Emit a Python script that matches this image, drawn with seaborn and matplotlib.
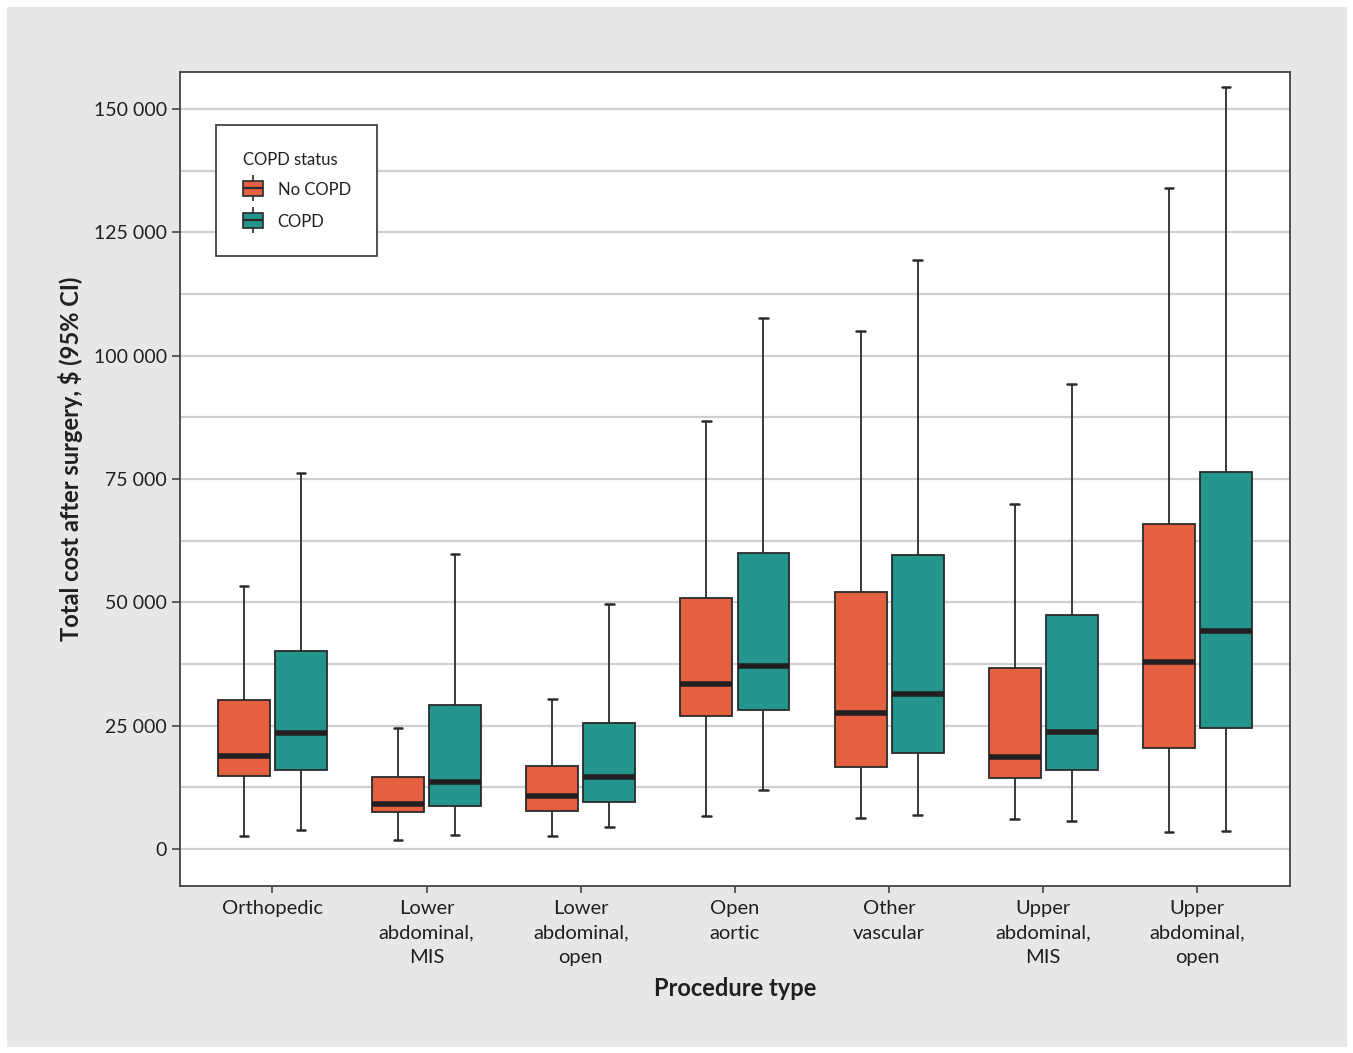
import numpy as np
import pandas as pd
import matplotlib
matplotlib.use("Agg")
import matplotlib.pyplot as plt
from matplotlib.ticker import MultipleLocator, FuncFormatter
from matplotlib.patches import Patch
from matplotlib.lines import Line2D
from matplotlib.legend_handler import HandlerTuple
import seaborn as sns

# Procedure categories (x axis) and group labels
procedures = ["Orthopedic", "Lower\nabdominal,\nMIS", "Lower\nabdominal,\nopen", "Open\naortic",
              "Other\nvascular", "Upper\nabdominal,\nMIS", "Upper\nabdominal,\nopen"]
groups = ["No COPD", "COPD"]
colors = ["#e56040", "#23958c"]

# Box statistics (dollars)
no_copd_low = [2600, 1800, 2600, 6700, 6300, 6100, 3400]
no_copd_q1 = [14800, 7600, 7700, 26900, 16600, 14400, 20400]
no_copd_med = [18800, 9200, 10700, 33400, 27500, 18600, 38000]
no_copd_q3 = [30200, 14500, 16800, 50900, 52000, 36600, 65900]
no_copd_high = [53400, 24500, 30400, 86800, 105100, 70000, 134000]

copd_low = [3800, 2900, 4500, 12000, 6900, 5700, 3700]
copd_q1 = [16000, 8800, 9500, 28100, 19400, 16000, 24600]
copd_med = [23500, 13500, 14600, 37100, 31400, 23700, 44200]
copd_q3 = [40100, 29100, 25500, 60100, 59500, 47400, 76500]
copd_high = [76300, 59900, 49600, 107700, 119400, 94300, 154500]

# five values per box: with whis=(0, 100) seaborn reproduces these stats exactly
rows = []
stats = {
    "No COPD": (no_copd_low, no_copd_q1, no_copd_med, no_copd_q3, no_copd_high),
    "COPD": (copd_low, copd_q1, copd_med, copd_q3, copd_high),
}
for grp in groups:
    cols = stats[grp]
    for i, proc in enumerate(procedures):
        for col in cols:
            rows.append({"procedure": proc, "COPD status": grp, "cost": col[i]})
df = pd.DataFrame(rows)

sns.set_theme(style="white")
plt.rcParams["font.family"] = ["Lato", "DejaVu Sans"]
text_color = "#231f20"
edge = "#2a2a2a"

fig = plt.figure(figsize=(13.53, 10.53), dpi=100)
fig.patch.set_facecolor("#e6e7e9")
fig.patch.set_edgecolor("white")
fig.patch.set_linewidth(9)
ax = fig.add_axes([0.1330, 0.1586, 0.8204, 0.7730])
ax.set_facecolor("white")

sns.boxplot(
    data=df, x="procedure", y="cost", hue="COPD status",
    order=procedures, hue_order=groups,
    palette=dict(zip(groups, colors)),
    whis=(0, 100), width=0.74, gap=0.09, saturation=1,
    linecolor=edge, linewidth=1.3,
    medianprops={"color": "#231f20", "linewidth": 4},
    capprops={"linewidth": 1.8},
    legend=False,
    ax=ax,
)

# shorten whisker caps
box_w = 0.37 * (1 - 0.09)
for ln in ax.lines:
    xd = np.asarray(ln.get_xdata(), dtype=float)
    yd = np.asarray(ln.get_ydata(), dtype=float)
    if len(xd) == 2 and yd[0] == yd[1]:
        span = abs(xd[1] - xd[0])
        if span < box_w * 0.7:
            c = xd.mean()
            ln.set_xdata([c - 0.028, c + 0.028])

ax.set_xlim(-0.6, 6.6)
ax.set_ylim(-7500, 157500)
ax.yaxis.set_major_locator(MultipleLocator(25000))
ax.yaxis.set_minor_locator(MultipleLocator(12500))
ax.yaxis.set_major_formatter(FuncFormatter(lambda v, p: f"{int(v):,}".replace(",", " ")))
ax.grid(axis="y", which="both", color="#cfcfcf", linewidth=1.6, zorder=0)
ax.set_axisbelow(True)

ax.tick_params(axis="both", which="major", length=6, width=1.2, color="#444444",
               labelsize=14, labelcolor=text_color, direction="out")
ax.tick_params(axis="x", labelsize=14.5, pad=5, length=5)
ax.tick_params(axis="y", which="minor", length=0)
ax.tick_params(left=True, bottom=True)
for t in ax.get_xticklabels():
    t.set_linespacing(1.55)
for sp in ax.spines.values():
    sp.set_color("#444444")
    sp.set_linewidth(1.3)

ax.set_xlabel("Procedure type", fontsize=17, fontweight="bold", color=text_color, labelpad=8)
ax.set_ylabel("Total cost after surgery, $ (95% CI)", fontsize=17, fontweight="bold",
              color=text_color)
ax.yaxis.set_label_coords(-0.0875, 0.525)

# legend with small box-plot glyphs
handles = []
for col in colors:
    whisk = Line2D([], [], marker="|", markersize=19, markeredgewidth=1.2,
                   color=edge, linestyle="none")
    box = Patch(facecolor=col, edgecolor=edge, linewidth=1.2)
    med = Line2D([], [], marker="_", markersize=14, markeredgewidth=1.6,
                 color=edge, linestyle="none")
    handles.append((whisk, box, med))
leg = ax.legend(handles, groups, title="COPD status", loc="upper left",
                bbox_to_anchor=(0.0324, 0.935),
                handler_map={tuple: HandlerTuple(ndivide=1)},
                fontsize=12, title_fontsize=12, frameon=True, fancybox=False,
                borderpad=1.6, labelspacing=0.95, handletextpad=0.9,
                handlelength=1.2, handleheight=1.0, borderaxespad=0)
leg.get_frame().set_edgecolor("#333333")
leg.get_frame().set_linewidth(1.2)
leg.get_frame().set_alpha(1)
leg._legend_box.align = "left"
leg._legend_box.sep = 10
for t in leg.get_texts():
    t.set_color(text_color)
leg.get_title().set_color(text_color)

fig.savefig("out.png", dpi=100, facecolor=fig.get_facecolor(), edgecolor=fig.patch.get_edgecolor())
